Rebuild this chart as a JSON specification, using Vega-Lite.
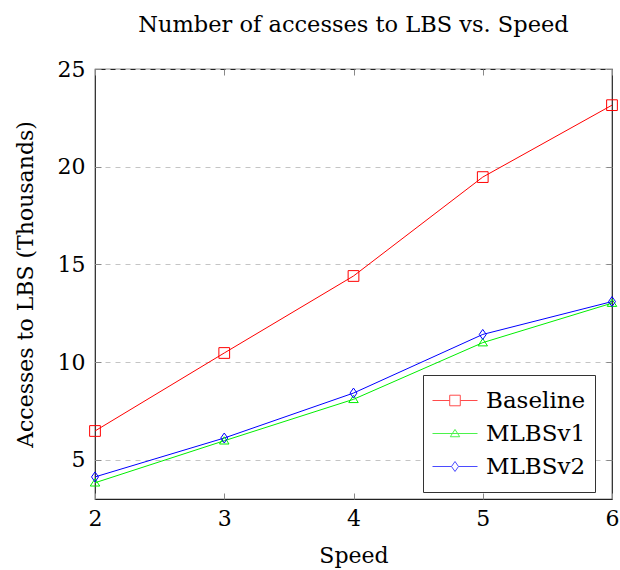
{
  "$schema": "https://vega.github.io/schema/vega-lite/v6.json",
  "width": 517,
  "height": 430,
  "autosize": {"type": "none"},
  "padding": {"left": 95, "top": 69, "right": 8, "bottom": 71},
  "background": "white",
  "title": {"text": "Number of accesses to LBS vs. Speed", "font": "DejaVu Serif", "fontSize": 22.5, "fontWeight": "normal", "color": "black", "offset": 22},
  "config": {
    "view": {"stroke": "#222", "strokeWidth": 1.2},
    "font": "DejaVu Serif"
  },
  "data": {"values": [
    {"speed": 2, "series": "Baseline", "value": 6.48},
    {"speed": 3, "series": "Baseline", "value": 10.47},
    {"speed": 4, "series": "Baseline", "value": 14.41},
    {"speed": 5, "series": "Baseline", "value": 19.47},
    {"speed": 6, "series": "Baseline", "value": 23.15},
    {"speed": 2, "series": "MLBSv1", "value": 3.83},
    {"speed": 3, "series": "MLBSv1", "value": 5.98},
    {"speed": 4, "series": "MLBSv1", "value": 8.1},
    {"speed": 5, "series": "MLBSv1", "value": 11.0},
    {"speed": 6, "series": "MLBSv1", "value": 13.02},
    {"speed": 2, "series": "MLBSv2", "value": 4.13},
    {"speed": 3, "series": "MLBSv2", "value": 6.12},
    {"speed": 4, "series": "MLBSv2", "value": 8.42},
    {"speed": 5, "series": "MLBSv2", "value": 11.42},
    {"speed": 6, "series": "MLBSv2", "value": 13.1}
  ]},
  "resolve": {"axis": {"x": "independent", "y": "independent"}},
  "layer": [
    {
      "mark": {"type": "point", "filled": false, "size": 0, "strokeWidth": 1},
      "encoding": {
        "x": {"field": "speed", "type": "quantitative", "scale": {"domain": [2, 6], "nice": false, "zero": false},
          "axis": {"orient": "top", "title": null, "labels": false, "values": [2, 3, 4, 5, 6], "domain": false, "grid": false, "tickSize": -6, "tickColor": "#888", "tickWidth": 1}},
        "y": {"field": "value", "type": "quantitative", "scale": {"domain": [3, 25], "nice": false, "zero": false},
          "axis": {"orient": "right", "title": null, "labels": false, "values": [5, 10, 15, 20, 25], "domain": false, "grid": false, "tickSize": -6, "tickColor": "#888", "tickWidth": 1}},
        "color": {"field": "series", "type": "nominal",
          "scale": {"domain": ["Baseline", "MLBSv1", "MLBSv2"], "range": ["#ff0000", "#00ee00", "#0000ff"]},
          "legend": {"title": null, "orient": "none", "legendX": 328, "legendY": 306,
            "symbolSize": 2025, "symbolStrokeWidth": 1, "clipHeight": 33,
            "labelFontSize": 23, "labelFont": "DejaVu Serif", "labelColor": "black", "labelOffset": 8,
            "padding": 9, "strokeColor": "#333", "fillColor": "white", "rowPadding": 0}},
        "shape": {"field": "series", "type": "nominal",
          "scale": {"domain": ["Baseline", "MLBSv1", "MLBSv2"],
            "range": ["M-1,0H-0.235M0.235,0H1M-0.235,-0.235H0.235V0.235H-0.235Z", "M-1,0H1M0,-0.18L0.21,0.144H-0.21Z", "M-1,0H-0.155M0.155,0H1M0,-0.222L0.155,0L0,0.222L-0.155,0Z"]},
          "legend": {"title": null, "orient": "none", "legendX": 328, "legendY": 306,
            "symbolSize": 2025, "symbolStrokeWidth": 1, "clipHeight": 33,
            "labelFontSize": 23, "labelFont": "DejaVu Serif", "labelColor": "black", "labelOffset": 8,
            "padding": 9, "strokeColor": "#333", "fillColor": "white", "rowPadding": 0}}
      }
    },
    {
      "mark": {"type": "line", "strokeWidth": 1},
      "encoding": {
        "x": {"field": "speed", "type": "quantitative",
          "scale": {"domain": [2, 6], "nice": false, "zero": false},
          "axis": {"orient": "bottom", "title": "Speed", "values": [2, 3, 4, 5, 6], "format": "d", "domain": false, "grid": false, "labelFlush": false,
            "tickSize": -6, "tickColor": "#888", "tickWidth": 1, "labelPadding": 15, "labelFontSize": 22, "labelColor": "black", "labelFont": "DejaVu Serif",
            "titleFontSize": 22, "titleFontWeight": "normal", "titleColor": "black", "titleFont": "DejaVu Serif", "titlePadding": 16}},
        "y": {"field": "value", "type": "quantitative",
          "scale": {"domain": [3, 25], "nice": false, "zero": false},
          "axis": {"orient": "left", "title": "Accesses to LBS (Thousands)", "values": [5, 10, 15, 20, 25], "domain": false, "labelFlush": false,
            "grid": true, "gridDash": [5, 5], "gridColor": "#c4c4c4", "gridWidth": 1,
            "tickSize": -6, "tickColor": "#888", "tickWidth": 1, "labelPadding": 16, "labelFontSize": 22, "labelColor": "black", "labelFont": "DejaVu Serif",
            "titleFontSize": 22, "titleFontWeight": "normal", "titleColor": "black", "titleFont": "DejaVu Serif", "titlePadding": 20}},
        "stroke": {"field": "series", "type": "nominal",
          "scale": {"domain": ["Baseline", "MLBSv1", "MLBSv2"], "range": ["#ff0000", "#00ee00", "#0000ff"]}, "legend": null}
      }
    },
    {
      "transform": [{"filter": "datum.series === 'Baseline'"}],
      "mark": {"type": "point", "shape": "square", "size": 115, "filled": false, "strokeWidth": 1, "opacity": 1, "color": "#ff0000"},
      "encoding": {
        "x": {"field": "speed", "type": "quantitative", "scale": {"domain": [2, 6], "nice": false, "zero": false}, "axis": null},
        "y": {"field": "value", "type": "quantitative", "scale": {"domain": [3, 25], "nice": false, "zero": false}, "axis": null}
      }
    },
    {
      "transform": [{"filter": "datum.series === 'MLBSv1'"}],
      "mark": {"type": "point", "shape": "M0,-0.8L0.95,0.65H-0.95Z", "size": 100, "filled": false, "strokeWidth": 1, "opacity": 1, "color": "#00ee00"},
      "encoding": {
        "x": {"field": "speed", "type": "quantitative", "scale": {"domain": [2, 6], "nice": false, "zero": false}, "axis": null},
        "y": {"field": "value", "type": "quantitative", "scale": {"domain": [3, 25], "nice": false, "zero": false}, "axis": null}
      }
    },
    {
      "transform": [{"filter": "datum.series === 'MLBSv2'"}],
      "mark": {"type": "point", "shape": "M0,-1L0.7,0L0,1L-0.7,0Z", "size": 100, "filled": false, "strokeWidth": 1, "opacity": 1, "color": "#0000ff"},
      "encoding": {
        "x": {"field": "speed", "type": "quantitative", "scale": {"domain": [2, 6], "nice": false, "zero": false}, "axis": null},
        "y": {"field": "value", "type": "quantitative", "scale": {"domain": [3, 25], "nice": false, "zero": false}, "axis": null}
      }
    }
  ]
}
